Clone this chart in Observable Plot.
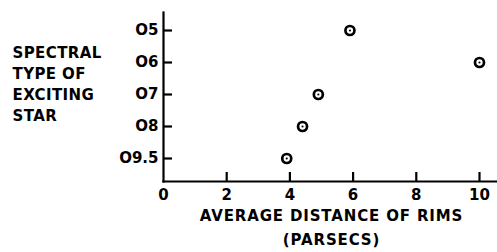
<!DOCTYPE html>
<html>
<head>
<meta charset="utf-8">
<script src="https://cdn.jsdelivr.net/npm/d3@7"></script>
<script src="https://cdn.jsdelivr.net/npm/@observablehq/plot@0.6"></script>
<style>
  html, body { margin: 0; padding: 0; background: #fff; }
</style>
</head>
<body>
<div id="chart"></div>
<script>
// Categories (spectral types, top to bottom)
const spectralTypes = ["O5", "O6", "O7", "O8", "O9.5"];
// Series: average distance of rims (parsecs) per spectral type
const pointTypes = ["O9.5", "O8", "O7", "O5", "O6"];
const pointDistances = [3.9, 4.4, 4.9, 5.9, 10.0];
// X tick values
const xTicks = [0, 2, 4, 6, 8, 10];
// Texts
const yTitle = "SPECTRAL\nTYPE OF\nEXCITING\nSTAR";
const xTitle = "AVERAGE DISTANCE OF RIMS\n(PARSECS)";

const data = pointTypes.map((t, i) => ({type: t, dist: pointDistances[i]}));

const W = 497, H = 252, mL = 163, mR = 0, mT = 12, mB = 71;
const tickLen = 9;

const chart = Plot.plot({
  width: W,
  height: H,
  marginLeft: mL,
  marginRight: mR,
  marginTop: mT,
  marginBottom: mB,
  style: {fontFamily: "DejaVu Sans", fontSize: "15px", fontWeight: "bold", color: "#000", background: "#fff"},
  x: {domain: [0, 10.57], label: null},
  y: {type: "point", domain: spectralTypes, padding: 0.58, align: 0.45, label: null},
  marks: [
    Plot.frame({anchor: "left", strokeWidth: 2.2}),
    Plot.frame({anchor: "bottom", strokeWidth: 2.2}),
    Plot.tickY(spectralTypes, {y: d => d, stroke: "#000", strokeWidth: 2.2, insetRight: (W - mL - mR) - tickLen}),
    Plot.tickX(xTicks.filter(d => d !== 0), {x: d => d, stroke: "#000", strokeWidth: 2.2, insetTop: (H - mT - mB) - tickLen}),
    Plot.axisY({tickSize: 0, tickPadding: 5, label: null}),
    Plot.axisX(xTicks, {tickSize: 0, tickPadding: 8, label: null}),
    Plot.dot(data, {x: "dist", y: "type", r: 4.5, stroke: "#000", strokeWidth: 2.7, fill: "#fff"}),
    Plot.dot(data, {x: "dist", y: "type", r: 1.1, fill: "#000", stroke: null}),
    Plot.text([yTitle], {frameAnchor: "left", textAnchor: "start", lineAnchor: "middle", dx: -151, dy: -14, lineHeight: 1.4, fontSize: 15}),
    Plot.text([xTitle], {frameAnchor: "bottom", textAnchor: "middle", lineAnchor: "middle", dx: 1, dy: 44, lineHeight: 1.6, fontSize: 15})
  ]
});
// letter spacing for the hand-lettered titles
const titleGroups = chart.querySelectorAll('g[aria-label="text"]');
titleGroups.forEach(g => {
  const s = g.textContent.includes("AVERAGE") ? "0.85px" : "0.4px";
  g.querySelectorAll("text").forEach(t => t.style.letterSpacing = s);
});
document.getElementById("chart").appendChild(chart);
</script>
</body>
</html>
